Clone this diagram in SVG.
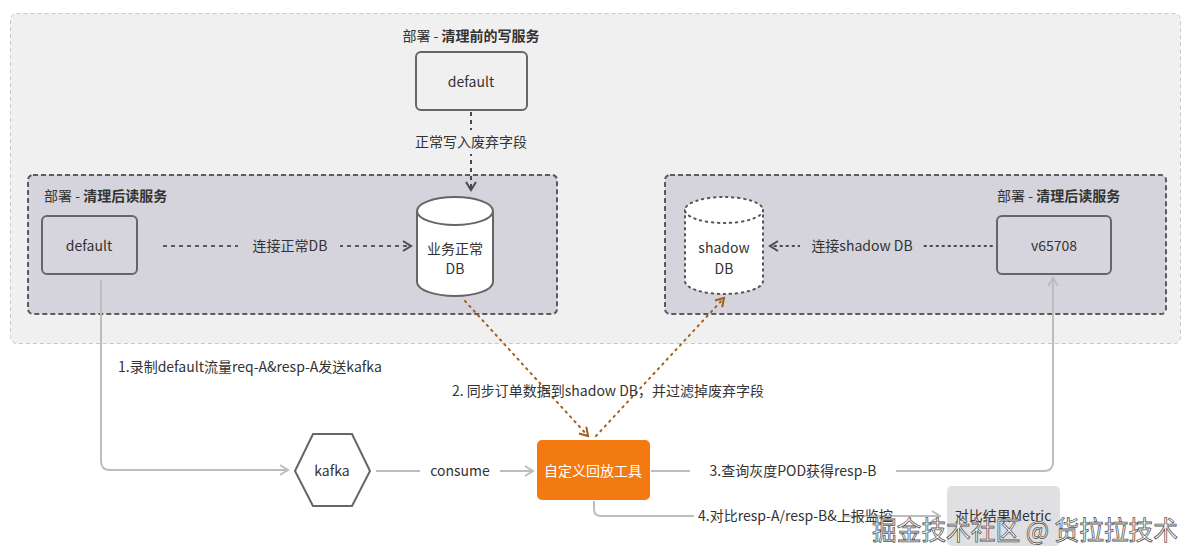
<svg xmlns="http://www.w3.org/2000/svg" width="1199" height="560" viewBox="0 0 1199 560">
<defs>
<style>
text{font-family:"Noto Sans CJK SC","Noto Sans",sans-serif;font-size:14px;fill:#333}
.c{text-anchor:middle}
.b{font-weight:bold}
.box{fill:#d6d5dd;stroke:#666;stroke-width:2}
.grp{fill:#d5d4dc;stroke:#5a5a62;stroke-width:2;stroke-dasharray:5 3}
.gline{fill:none;stroke:#bdbdbd;stroke-width:2}
.orl{fill:none;stroke:#a0601a;stroke-width:2;stroke-dasharray:1.5 5;stroke-linecap:round}
.dk{fill:none;stroke:#4a4a55;stroke-width:2}
</style>
<marker id="ag" viewBox="0 0 12 12" refX="10" refY="6" markerWidth="12" markerHeight="12" markerUnits="userSpaceOnUse" orient="auto"><path d="M2,1 L10,6 L2,11" fill="none" stroke="#bdbdbd" stroke-width="2"/></marker>
<marker id="ad" viewBox="0 0 12 12" refX="10" refY="6" markerWidth="12" markerHeight="12" markerUnits="userSpaceOnUse" orient="auto"><path d="M2,1 L10,6 L2,11" fill="none" stroke="#4a4a55" stroke-width="2"/></marker>
<marker id="ao" viewBox="0 0 12 12" refX="10" refY="6" markerWidth="12" markerHeight="12" markerUnits="userSpaceOnUse" orient="auto"><path d="M2,1 L10,6 L2,11" fill="none" stroke="#a0601a" stroke-width="2"/></marker>
</defs>
<rect width="1199" height="560" fill="#ffffff"/>
<g id="outer">
<rect x="10.5" y="13.5" width="1170" height="330" rx="6" fill="#f0f0f1" stroke="#c9c9cc" stroke-dasharray="4 3"/>
</g>
<g id="group-left">
<rect class="grp" x="28" y="175" width="529" height="139" rx="5"/>
<text x="44" y="201">部署 - <tspan class="b">清理后读服务</tspan></text>
</g>
<g id="group-right">
<rect class="grp" x="665" y="175" width="501" height="139" rx="5"/>
<text x="997" y="201">部署 - <tspan class="b">清理后读服务</tspan></text>
</g>
<g id="connectors">
<path class="dk" d="M471,112 V190" stroke-dasharray="4 4" marker-end="url(#ad)"/>
<rect x="410" y="130" width="122" height="24" fill="#f0f0f1"/>
<text class="c" x="471" y="147">正常写入废弃字段</text>
<path d="M163,246 H411" fill="none" stroke="#5a5a62" stroke-width="2" stroke-dasharray="4 4" marker-end="url(#ad)"/>
<rect x="238" y="234" width="102" height="24" fill="#d5d4dc"/>
<text class="c" x="290" y="251">连接正常DB</text>
<path d="M992,246 H770" fill="none" stroke="#4a4a55" stroke-width="2" stroke-dasharray="1.5 4.5" stroke-linecap="round" marker-end="url(#ad)"/>
<rect x="800" y="234" width="122" height="24" fill="#d5d4dc"/>
<text class="c" x="862" y="251">连接shadow DB</text>
<path class="gline" d="M101,280 V461 Q101,470 110,470 H288" marker-end="url(#ag)"/>
<text x="118" y="372">1.录制default流量req-A&amp;resp-A发送kafka</text>
<path class="gline" d="M376,471 H533" marker-end="url(#ag)"/>
<rect x="420" y="459" width="80" height="24" fill="#ffffff"/>
<text class="c" x="460" y="476">consume</text>
<path class="gline" d="M651,471 H1044 Q1053,471 1053,462 V278" marker-end="url(#ag)"/>
<rect x="690" y="459" width="206" height="24" fill="#ffffff"/>
<text class="c" x="793" y="476">3.查询灰度POD获得resp-B</text>
<path class="gline" d="M594,501 V509 Q594,516 601,516 H940" marker-end="url(#ag)"/>
<rect x="694" y="504" width="150" height="24" fill="#ffffff"/>
<text x="698" y="521">4.对比resp-A/resp-B&amp;上报监控</text>
<path class="orl" d="M465,301 L588,436" marker-end="url(#ao)"/>
<path class="orl" d="M596,436 L724,298" marker-end="url(#ao)"/>
<text class="c" x="608" y="396">2. 同步订单数据到shadow DB，并过滤掉废弃字段</text>
</g>
<g id="node-write">
<text class="c" x="471" y="41">部署 - <tspan class="b">清理前的写服务</tspan></text>
<rect x="416" y="52" width="111" height="58" rx="5" fill="#f0f0f1" stroke="#666" stroke-width="2"/>
<text class="c" x="471" y="87">default</text>
</g>
<g id="node-read-default">
<rect class="box" x="42" y="216" width="95" height="58" rx="5"/>
<text class="c" x="89" y="251">default</text>
</g>
<g id="node-db">
<path d="M417,211 V282 A38,14 0 0 0 493,282 V211" fill="#ffffff" stroke="#666" stroke-width="2"/>
<ellipse cx="455" cy="211" rx="38" ry="14" fill="#ffffff" stroke="#666" stroke-width="2"/>
<text class="c" x="455" y="254">业务正常</text>
<text class="c" x="455" y="274">DB</text>
</g>
<g id="node-shadow-db">
<path d="M685,210 V281 A39,13 0 0 0 763,281 V210" fill="#ffffff" stroke="#555" stroke-width="2" stroke-dasharray="1.5 4.5" stroke-linecap="round"/>
<ellipse cx="724" cy="210" rx="39" ry="13" fill="#ffffff" stroke="#555" stroke-width="2" stroke-dasharray="1.5 4.5" stroke-linecap="round"/>
<text class="c" x="724" y="253">shadow</text>
<text class="c" x="724" y="274">DB</text>
</g>
<g id="node-v65708">
<rect class="box" x="997" y="216" width="114" height="58" rx="5"/>
<text class="c" x="1054" y="251">v65708</text>
</g>
<g id="node-kafka">
<polygon points="295,471 313,434 352,434 370,471 352,506 313,506" fill="#ffffff" stroke="#666" stroke-width="2"/>
<text class="c" x="332" y="476">kafka</text>
</g>
<g id="node-tool">
<rect x="537" y="440" width="113" height="60" rx="5" fill="#f27a10"/>
<text class="c" x="593" y="476" style="fill:#ffffff">自定义回放工具</text>
</g>
<g id="node-metric">
<rect x="947" y="486" width="113" height="60" rx="5" fill="#e0e0e2"/>
<text class="c" x="1003" y="521">对比结果Metric</text>
</g>
<g id="watermark">
<text x="872" y="540" textLength="306" lengthAdjust="spacingAndGlyphs" style="font-size:26px;fill:#ffffff;stroke:#555;stroke-width:0.8">掘金技术社区 @ 货拉拉技术</text>
</g>
</svg>
